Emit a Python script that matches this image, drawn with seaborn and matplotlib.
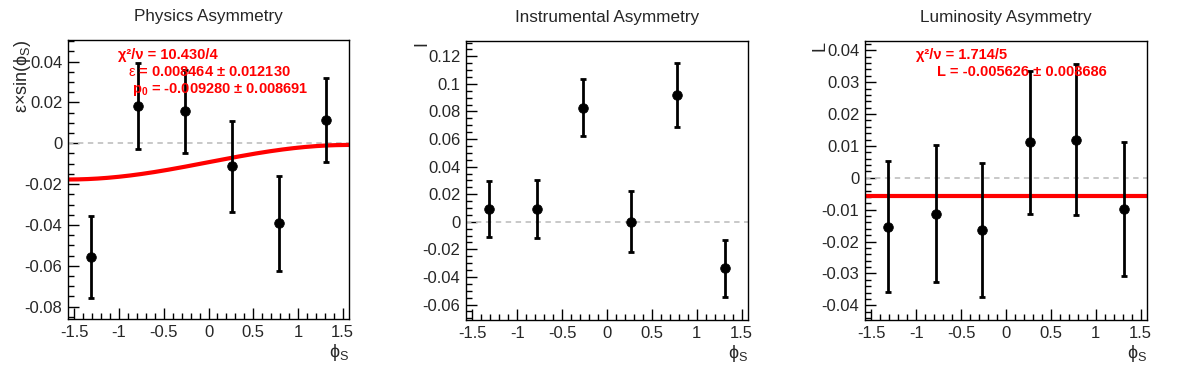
import numpy as np
import pandas as pd
import seaborn as sns
import matplotlib.pyplot as plt
from matplotlib.ticker import MultipleLocator

# bin centres in phi_S
phi_bins = [-1.309, -0.785, -0.262, 0.262, 0.785, 1.309]

# Physics asymmetry
phys_val = [-0.0555, 0.0183, 0.0157, -0.0113, -0.0392, 0.0113]
phys_err = [0.0201, 0.0210, 0.0203, 0.0222, 0.0233, 0.0206]
phys_eps = 0.008464
phys_p0 = -0.009280

# Instrumental asymmetry
inst_val = [0.0090, 0.0092, 0.0828, 0.0002, 0.0917, -0.0338]
inst_err = [0.0203, 0.0211, 0.0207, 0.0221, 0.0232, 0.0205]

# Luminosity asymmetry
lumi_val = [-0.0153, -0.0112, -0.0163, 0.0111, 0.0120, -0.0098]
lumi_err = [0.0205, 0.0215, 0.0210, 0.0224, 0.0238, 0.0210]
lumi_fit = -0.005626

sns.set_style("ticks")
plt.rcParams['font.family'] = ['Liberation Sans', 'DejaVu Sans']
plt.rcParams['mathtext.fontset'] = 'custom'
plt.rcParams['mathtext.rm'] = 'Liberation Sans'
plt.rcParams['mathtext.it'] = 'Liberation Sans'
plt.rcParams['mathtext.bf'] = 'Liberation Sans:bold'
plt.rcParams['mathtext.fallback'] = 'stixsans'

fig = plt.figure(figsize=(11.96, 3.72), dpi=100)
W, H = 1196, 372


def make_ax(x0, x1, y0, y1):
    return fig.add_axes([x0 / W, 1 - y1 / H, (x1 - x0) / W, (y1 - y0) / H])


ax1 = make_ax(68, 349, 40, 319)
ax2 = make_ax(466, 748, 41, 320)
ax3 = make_ax(865, 1147, 41, 320)

panels = [
    (ax1, phys_val, phys_err, "Physics Asymmetry", (-0.0861, 0.0506), 0.02, 0.005),
    (ax2, inst_val, inst_err, "Instrumental Asymmetry", (-0.0712, 0.1311), 0.02, 0.005),
    (ax3, lumi_val, lumi_err, "Luminosity Asymmetry", (-0.0446, 0.0429), 0.01, 0.002),
]

for ax, vals, errs, title, ylim, major, minor in panels:
    df = pd.DataFrame({'phi': phi_bins, 'asym': vals, 'err': errs})
    ax.axhline(0, color='#c4c4c4', ls=(0, (3, 2.5)), lw=1.3, zorder=1)
    ax.errorbar(df['phi'], df['asym'], yerr=df['err'], fmt='none', ecolor='black',
                elinewidth=2, capsize=2, capthick=2, zorder=3)
    sns.scatterplot(data=df, x='phi', y='asym', color='black', s=48,
                    edgecolor='black', ax=ax, zorder=4)
    ax.set_xlim(-np.pi / 2, np.pi / 2)
    ax.set_ylim(*ylim)
    ax.xaxis.set_major_locator(MultipleLocator(0.5))
    ax.xaxis.set_minor_locator(MultipleLocator(0.1))
    ax.yaxis.set_major_locator(MultipleLocator(major))
    ax.yaxis.set_minor_locator(MultipleLocator(minor))
    ax.xaxis.set_major_formatter(plt.FuncFormatter(lambda v, p: f"{v:g}"))
    ax.yaxis.set_major_formatter(plt.FuncFormatter(lambda v, p: f"{v:g}" if abs(v) > 1e-9 else "0"))
    ax.tick_params(which='both', direction='in', top=False, right=False,
                   labelsize=12, width=1, color='black')
    ax.tick_params(which='major', length=8, pad=4)
    ax.tick_params(which='minor', length=4)
    for s in ax.spines.values():
        s.set_visible(True)
        s.set_linewidth(1)
        s.set_color('black')
    ax.set_title(title, fontsize=12.3, pad=14)
    ax.set_xlabel(r"$\phi_\mathrm{S}$", fontsize=13, loc='right', labelpad=2)

# physics fit curve p0 + eps*sin(phi)
phi_grid = np.linspace(-np.pi / 2, np.pi / 2, 200)
fit_df = pd.DataFrame({'phi': phi_grid, 'fit': phys_p0 + phys_eps * np.sin(phi_grid)})
sns.lineplot(data=fit_df, x='phi', y='fit', color='red', lw=3, ax=ax1, zorder=2)
ax3.axhline(lumi_fit, color='red', lw=3, zorder=2)

ax1.set_ylabel(r"$\epsilon$×sin($\phi_\mathrm{S}$)", fontsize=13, loc='top')
ax1.yaxis.set_label_coords(-0.125, 1.0)
ax2.set_ylabel("I", fontsize=13, loc='top')
ax2.yaxis.set_label_coords(-0.125, 1.0)
ax3.set_ylabel("L", fontsize=13, loc='top')
ax3.yaxis.set_label_coords(-0.128, 1.0)

fit_kw = dict(color='red', fontsize=10.5, fontweight='bold', va='baseline', ha='left')
ax1.text(0.178, 0.931, "χ²/ν = 10.430/4", transform=ax1.transAxes, **fit_kw)
ax1.text(0.2135, 0.872, r"$\epsilon$ = 0.008464 ± 0.012130", transform=ax1.transAxes, **fit_kw)
ax1.text(0.228, 0.810, r"$\mathbf{p_0}$ = -0.009280 ± 0.008691", transform=ax1.transAxes, **fit_kw)
ax3.text(0.181, 0.937, "χ²/ν = 1.714/5", transform=ax3.transAxes, **fit_kw)
ax3.text(0.2545, 0.875, "L = -0.005626 ± 0.008686", transform=ax3.transAxes, **fit_kw)

fig.savefig('out.png', dpi=100)
